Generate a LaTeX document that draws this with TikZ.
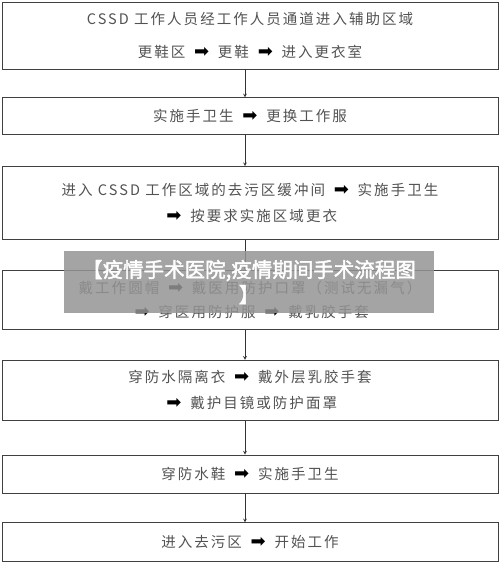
\documentclass[tikz,border=0pt]{standalone}
\usepackage{fontspec}
\setmainfont{Noto Sans CJK SC}[LetterSpace=14]
\newfontfamily\arrowfont{DejaVu Sans}
\newfontfamily\markfont[FakeBold=2]{Noto Sans CJK SC}
\usetikzlibrary{arrows,shapes}
\usetikzlibrary{positioning}
\newcommand{\nxt}{\hspace{3.5pt}{\arrowfont\fontsize{18}{18}\selectfont\color{black}➡}\hspace{3.5pt}}
\tikzstyle{stepbox}=[draw=black!75,line width=0.8pt,minimum width=496pt,
                align=center,text=black!68,font=\fontsize{14.5}{26}\selectfont]
\tikzstyle{flow}=[every edge/.style={draw=black!80,line width=0.7pt,->,>=stealth}]
\tikzstyle{banner}=[fill=black!42,fill opacity=0.85,text opacity=1,text=white,
                minimum width=370pt,minimum height=62pt,align=center,
                font=\markfont\fontsize{20.5}{25}\selectfont]
\begin{document}
\begin{tikzpicture}[flow]
\useasboundingbox (0,0) rectangle (500pt,-565pt);

\node[stepbox,minimum height=67pt] (enter) at (250pt,-35.5pt)
{CSSD 工作人员经工作人员通道进入辅助区域\\[7pt]更鞋区 \nxt{} 更鞋 \nxt{} 进入更衣室};
\node[stepbox,minimum height=37pt,below=28pt of enter] (wash)
{实施手卫生 \nxt{} 更换工作服};
\node[stepbox,minimum height=73pt,below=31pt of wash] (buffer)
{进入 CSSD 工作区域的去污区缓冲间 \nxt{} 实施手卫生\\\nxt{} 按要求实施区域更衣};
\node[stepbox,minimum height=59pt,below=30pt of buffer] (cap)
{戴工作圆帽 \nxt{} 戴医用防护口罩（测试无漏气）\\[-2pt]\nxt{} 穿医用防护服 \nxt{} 戴乳胶手套};
\node[stepbox,minimum height=60pt,below=30pt of cap] (gown)
{穿防水隔离衣 \nxt{} 戴外层乳胶手套\\\nxt{} 戴护目镜或防护面罩};
\node[stepbox,minimum height=38pt,below=34pt of gown] (shoes)
{穿防水鞋 \nxt{} 实施手卫生};
\node[stepbox,minimum height=39pt,below=29pt of shoes] (work)
{进入去污区 \nxt{} 开始工作};

\path
([xshift=-5pt]enter.south) edge ([xshift=-5pt]wash.north)
([xshift=-5pt]wash.south) edge ([xshift=-5pt]buffer.north)
([xshift=-5pt]buffer.south) edge ([xshift=-5pt]cap.north)
([xshift=-5pt]cap.south) edge ([xshift=-5pt]gown.north)
([xshift=-5pt]gown.south) edge ([xshift=-5pt]shoes.north)
([xshift=-5pt]shoes.south) edge ([xshift=-5pt]work.north)
;

\node[banner] (mark) at (249pt,-282pt) {【疫情手术医院,疫情期间手术流程图\\】};
\end{tikzpicture}
\end{document}
